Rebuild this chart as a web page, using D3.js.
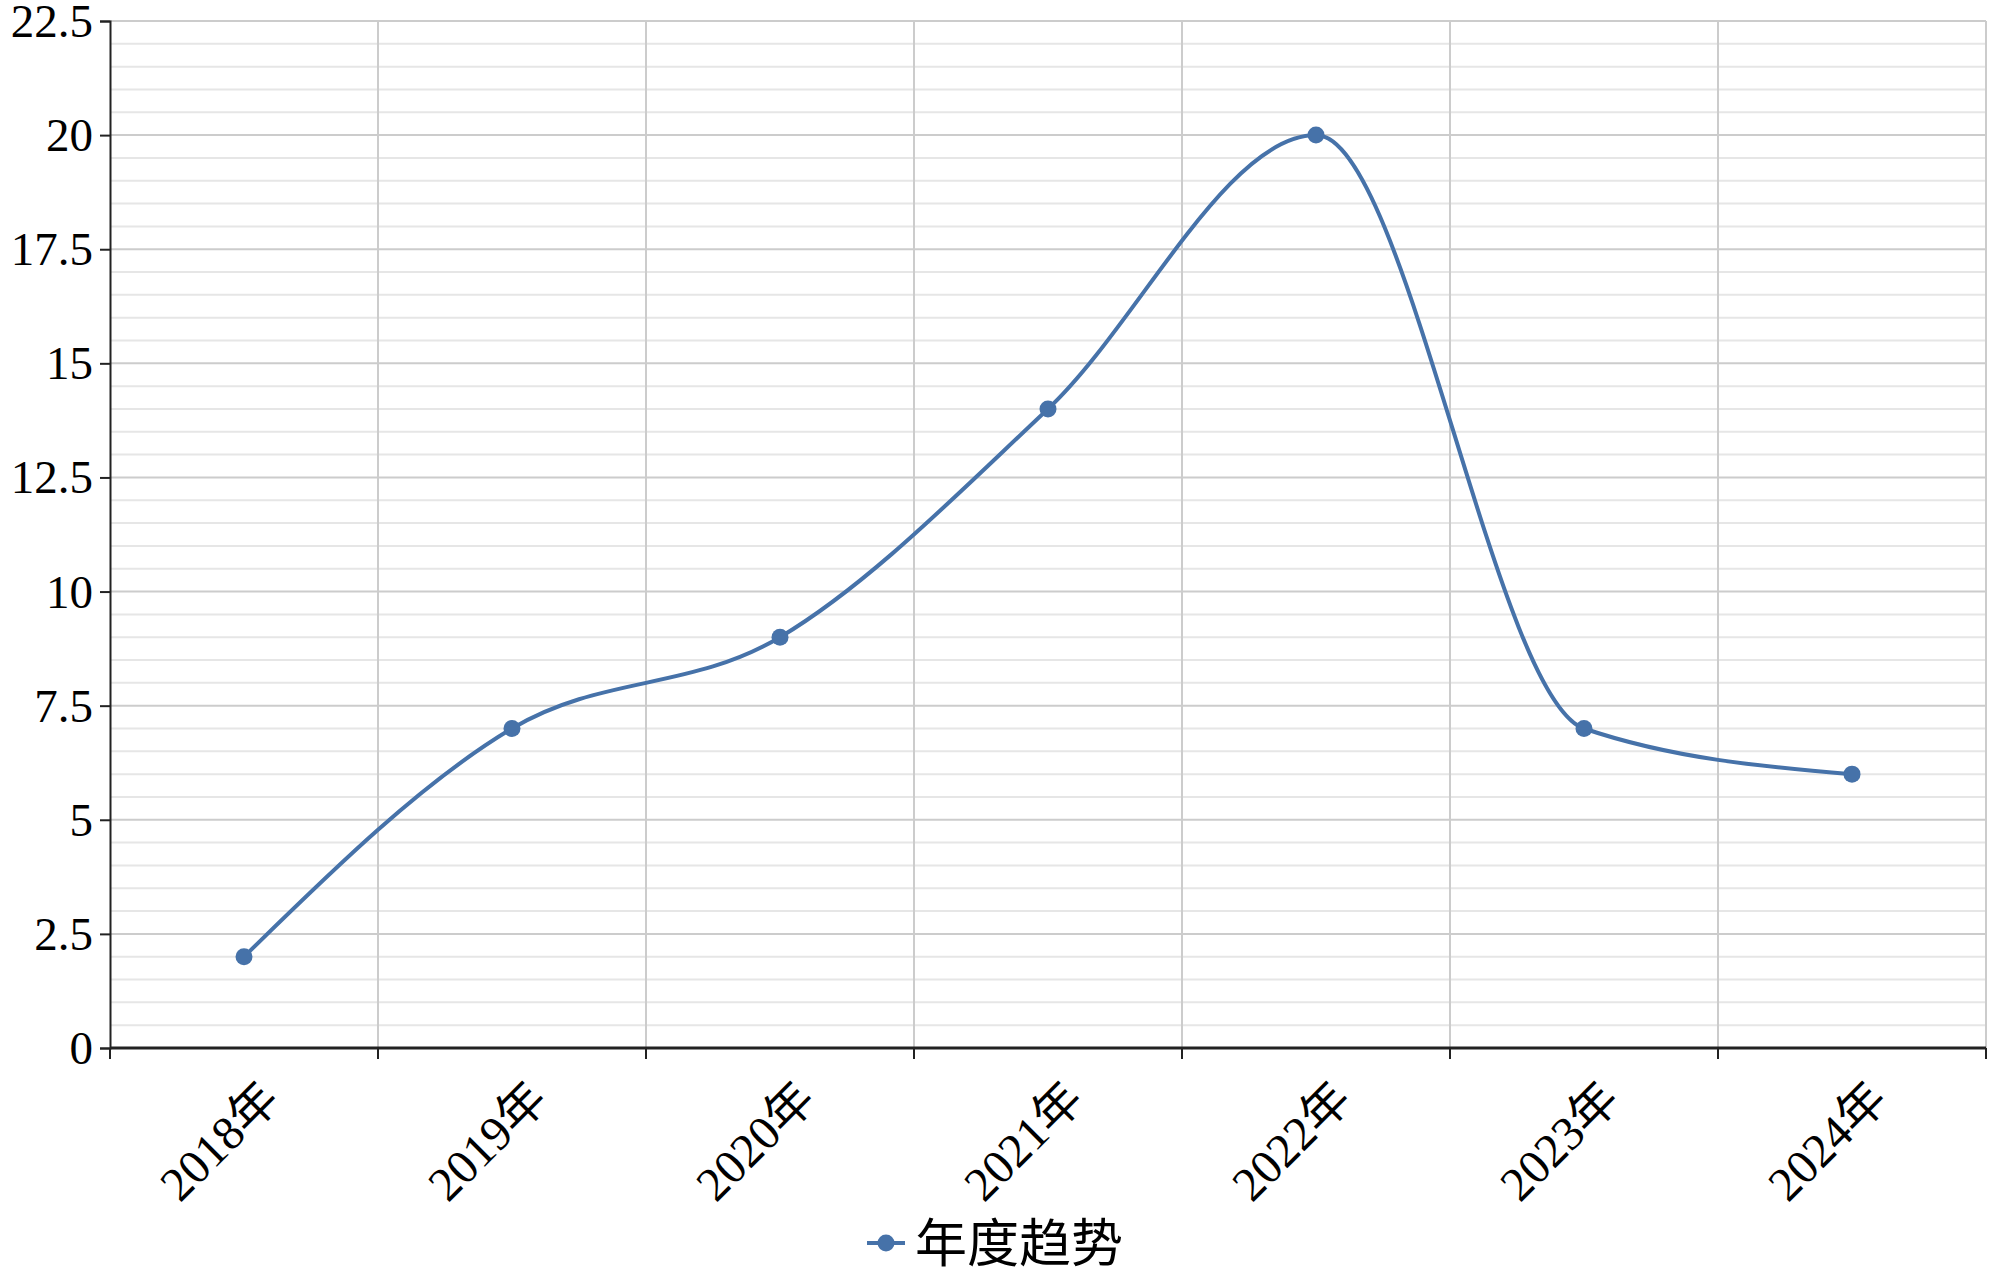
<!DOCTYPE html>
<html>
<head>
<meta charset="utf-8">
<script src="https://cdn.jsdelivr.net/npm/d3@7"></script>
<style>
  body { margin: 0; background: #fff; }
  text { font-family: "Liberation Serif", "Noto Sans CJK SC", serif; fill: #000; }
</style>
</head>
<body>
<div id="chart"></div>
<script>
const years = ["2018年", "2019年", "2020年", "2021年", "2022年", "2023年", "2024年"];
const values = [2, 7, 9, 14, 20, 7, 6];
const yTicks = [0, 2.5, 5, 7.5, 10, 12.5, 15, 17.5, 20, 22.5];
const seriesName = "年度趋势";

const W = 2000, H = 1276;
const margin = { top: 21, right: 14, bottom: 228, left: 110 };
const width = W - margin.left - margin.right;
const height = H - margin.top - margin.bottom;
const color = "#4672a9";

const svg = d3.select("#chart").append("svg")
    .attr("width", W)
    .attr("height", H);

const g = svg.append("g")
    .attr("transform", `translate(${margin.left},${margin.top})`);

const x = d3.scaleBand().domain(years).range([0, width]);
const y = d3.scaleLinear().domain([0, 22.5]).range([height, 0]);

// minor grid every 0.5
const minor = d3.range(0, 22.5, 0.5).filter(v => v % 2.5 !== 0);
g.selectAll(".minor").data(minor).enter().append("line")
    .attr("x1", 0).attr("x2", width)
    .attr("y1", d => y(d)).attr("y2", d => y(d))
    .attr("stroke", "#e6e6e6").attr("stroke-width", 2);

g.selectAll(".major").data(yTicks).enter().append("line")
    .attr("x1", 0).attr("x2", width)
    .attr("y1", d => y(d)).attr("y2", d => y(d))
    .attr("stroke", "#cccccc").attr("stroke-width", 2);

// vertical grid at band edges
const edges = years.map(d => x(d)).concat([width]);
g.selectAll(".vgrid").data(edges.slice(1)).enter().append("line")
    .attr("x1", d => d).attr("x2", d => d)
    .attr("y1", 0).attr("y2", height)
    .attr("stroke", "#cccccc").attr("stroke-width", 2);

// y axis
const yAxis = g.append("g")
    .call(d3.axisLeft(y).tickValues(yTicks).tickSize(10).tickPadding(7).tickFormat(d3.format("")));
yAxis.select(".domain").attr("stroke", "#222").attr("stroke-width", 2);
yAxis.selectAll(".tick line").attr("stroke", "#222").attr("stroke-width", 2);
yAxis.selectAll("text").style("font-size", "47px").attr("dy", "0.33em");

// x axis with ticks at band edges
const xAxis = g.append("g")
    .attr("transform", `translate(0,${height})`);
xAxis.append("line")
    .attr("x1", 0).attr("x2", width)
    .attr("stroke", "#222").attr("stroke-width", 3);
xAxis.selectAll(".xt").data(edges).enter().append("line")
    .attr("x1", d => d).attr("x2", d => d)
    .attr("y1", 0).attr("y2", 11)
    .attr("stroke", "#222").attr("stroke-width", 2);
xAxis.selectAll(".xl").data(years).enter().append("text")
    .attr("transform", d => `translate(${x(d) + x.bandwidth() / 2 + 14},${30}) rotate(-45)`)
    .attr("text-anchor", "end")
    .attr("dy", "0.7em")
    .style("font-size", "48px")
    .text(d => d);

// line
const cx = (d, i) => x(years[i]) + x.bandwidth() / 2;
const line = d3.line()
    .x((d, i) => cx(d, i))
    .y(d => y(d))
    .curve(d3.curveMonotoneX);

g.append("path")
    .datum(values)
    .attr("fill", "none")
    .attr("stroke", color)
    .attr("stroke-width", 4)
    .attr("d", line);

g.selectAll(".dot").data(values).enter().append("circle")
    .attr("cx", (d, i) => cx(d, i))
    .attr("cy", d => y(d))
    .attr("r", 8.5)
    .attr("fill", color);

// legend
const lg = svg.append("g").attr("transform", "translate(867,1243)");
lg.append("line").attr("x1", 0).attr("x2", 38)
    .attr("stroke", color).attr("stroke-width", 4);
lg.append("circle").attr("cx", 19).attr("r", 8.5).attr("fill", color);
lg.append("text").attr("x", 48).attr("dy", "0.36em")
    .style("font-size", "52px")
    .text(seriesName);
</script>
</body>
</html>
